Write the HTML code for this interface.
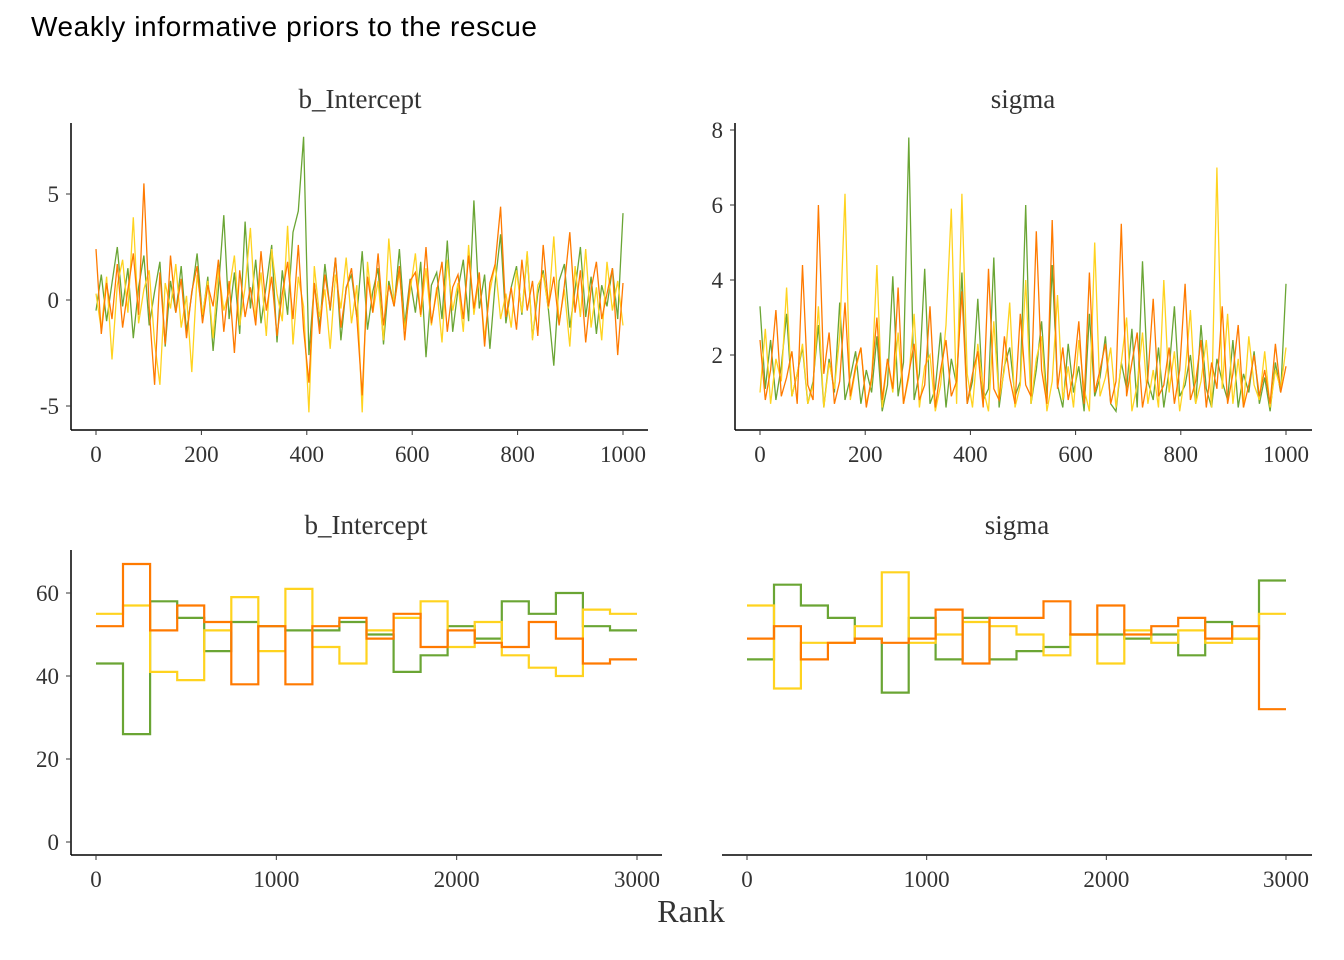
<!DOCTYPE html>
<html><head><meta charset="utf-8"><style>
body{margin:0;background:#fff;}
svg{display:block;}
text{font-family:"Liberation Serif",serif;fill:#333;}
</style></head><body>
<svg id="c" width="1344" height="960">
<text x="31" y="36" style="font-family:'Liberation Sans',sans-serif;font-size:28px;fill:#000" textLength="506">Weakly informative priors to the rescue</text>
<text x="360" y="108" text-anchor="middle" font-size="27" fill="#1a1a1a">b_Intercept</text>
<text x="1023" y="108" text-anchor="middle" font-size="27" fill="#1a1a1a">sigma</text>
<text x="366" y="534" text-anchor="middle" font-size="27" fill="#1a1a1a">b_Intercept</text>
<text x="1017" y="534" text-anchor="middle" font-size="27" fill="#1a1a1a">sigma</text>
<text x="691" y="922" text-anchor="middle" font-size="32" fill="#000">Rank</text>
</svg>
<script>
const colors=["#6aa534","#ffd31f","#ff7a00"];
const traceB_green=[-0.5,1.2,-1,0.8,2.5,-0.3,1.5,-1.8,0.6,2.1,-1.2,0.4,1.8,-2.2,0.9,-0.6,1.6,-1.5,0.3,2.2,-0.8,1.1,-2.4,0.5,4,-0.9,1.3,-1.6,3.7,-0.4,1.9,-1.1,0.7,2.6,-2,1.4,-0.7,3.2,4.2,7.7,-2.6,0.8,-1.3,1.7,-0.5,2,-1.9,0.6,1.2,-0.8,2.3,-1.4,0.4,1.5,-2.1,0.9,-0.3,2.4,-1.2,1,-0.6,1.8,-2.7,0.7,1.3,-0.9,2.8,-1.5,0.5,1.9,-1,4.7,-0.4,1.2,-2.3,0.8,3.1,-1.1,0.6,1.6,-0.7,2.2,-1.8,0.3,1.4,-0.5,-3.1,0.9,1.7,-1.3,0.5,2.5,-0.8,1.1,-1.6,0.7,-0.3,1.5,-0.9,4.1];
const traceB_yellow=[0.3,-1.4,1.1,-2.8,0.7,1.9,-0.6,3.9,-1.1,0.5,1.4,-2,-4,0.8,-0.4,1.7,-1.3,0.2,-3.4,1.2,-0.7,0.9,-1.8,1.5,-0.5,0.4,2.1,-1.2,0.6,3.4,-0.9,1.3,-1.7,2.4,0.3,-1,3.5,-2.1,1.1,-0.3,-5.3,1.6,-0.8,0.5,-2.3,1.2,-0.4,2,-1.1,0.7,-5.3,1.8,-0.6,0.9,-1.9,2.9,-0.2,1.3,-1.4,0.4,2.2,-0.8,1.5,-1.2,0.6,-2,1.9,-0.5,0.8,-1.5,2.6,-0.7,1.1,-1.8,0.4,1.7,-0.9,0.3,-1.3,1.4,-0.6,2.3,-1.9,0.7,1.2,-0.4,3,-1.1,0.5,-2.2,1.6,-0.8,2.4,-1.3,0.6,-1.9,1.8,-0.5,0.9,-1.2];
const traceB_orange=[2.4,-1.6,0.8,-0.9,1.7,-1.3,0.5,2.2,-0.7,5.5,-0.4,-4,1.3,-2.1,2.1,-0.6,1,-1.8,0.4,1.6,-1.1,0.7,-0.3,1.9,-1.5,0.9,-2.5,1.4,-0.8,0.6,-1.2,2.3,-0.5,1.1,-1.7,0.3,1.8,-0.9,2.6,-1.4,-3.9,0.8,-1.6,1.2,-0.4,2,-1.3,0.5,1.5,-0.8,-4.5,1.1,-0.6,2.2,-1.2,0.7,-0.3,1.6,-1.9,0.9,1.3,-0.7,2.5,-1.1,0.4,1.8,-1.5,0.6,1.2,-0.9,2.1,-0.4,1.3,-2.2,0.8,1.7,4.4,-0.8,0.6,-1.4,1.9,-0.5,0.9,-1.7,2.6,-0.3,1.1,-1.2,0.7,3.2,-0.6,1.4,-2,0.5,1.8,-0.9,0.3,1.5,-2.6,0.8];
const traceS_green=[3.3,1.1,2.4,0.8,1.7,3.1,0.9,1.5,2.2,0.7,1.3,2.8,0.6,1.9,1,3.4,0.8,1.4,2.1,0.7,1.6,1,2.5,0.5,1.2,4.1,0.9,1.8,7.8,0.8,1.5,4.3,0.7,1.1,2.6,0.6,1.9,1.2,4.2,0.7,1.3,3.5,0.8,1.1,4.6,0.6,1.7,2.2,0.9,1.3,6,0.7,1.6,2.9,0.8,4.4,1.2,0.6,2.3,1,1.7,0.5,3.1,0.9,1.4,2.5,0.7,0.5,1.8,1.1,2.7,0.6,4.5,1.3,0.8,2.2,0.6,1.6,3.3,0.9,1.2,2,0.7,2.8,1.1,0.6,1.9,1.3,0.8,2.4,0.6,1.5,1,2.1,0.7,1.4,0.5,1.8,1,3.9];
const traceS_yellow=[1,2.7,0.7,1.9,1.3,3.8,0.9,1.5,2.3,0.7,1.2,3.3,0.6,1.8,1.1,2.5,6.3,0.8,1.6,2.2,0.7,1.3,4.4,0.6,1.9,1,2.6,0.7,1.4,3.1,0.6,1.7,2,0.5,1.2,2.8,5.9,0.7,6.3,1.5,0.6,2.3,1.1,0.5,2.9,0.8,1.6,3.4,0.6,1.2,4,0.7,1.9,2.5,0.5,1.3,3.6,0.8,1.7,0.6,2.4,1.1,0.5,5,0.9,1.4,2.2,0.6,1.8,3,0.5,1.2,2.6,0.7,1.6,0.6,4,1,2.1,0.5,1.5,3.2,0.7,1.3,2.4,0.6,7,1.1,3.1,0.7,1.9,0.6,2.5,1.2,0.8,2.1,0.6,1.6,1.1,2.2];
const traceS_orange=[2.4,0.8,1.6,3.2,0.9,1.4,2.1,0.7,4.4,1.2,0.8,6,1.5,2.6,0.7,1.3,3.4,0.9,1.7,2.2,0.6,1.4,3,0.8,1.9,1.1,3.8,0.7,1.5,2.3,0.8,1.2,3.3,0.6,1.6,2.4,0.9,1.3,3.7,0.7,1.5,2.1,0.6,4.3,1.1,0.8,2.5,1.4,0.7,3.1,1.2,0.9,5.3,1.6,0.7,5.6,1.1,2.2,0.8,1.5,2.9,0.7,4.2,1,1.6,2.3,0.7,1.3,5.5,0.9,1.8,2.6,0.6,1.4,3.5,0.9,1.2,2.2,0.7,1.6,3.9,0.8,1.3,2.4,0.6,1.8,1.1,3.3,0.7,1.5,2.8,0.6,1.2,2,0.9,1.6,0.7,2.3,1,1.7];
const rankB_green=[43,26,58,54,46,53,52,51,51,53,50,41,45,52,49,58,55,60,52,51];
const rankB_yellow=[55,57,41,39,51,59,46,61,47,43,51,54,58,47,53,45,42,40,56,55];
const rankB_orange=[52,67,51,57,53,38,52,38,52,54,49,55,47,51,48,47,53,49,43,44];
const rankS_green=[44,62,57,54,49,36,54,44,54,44,46,47,50,50,49,50,45,53,49,63];
const rankS_yellow=[57,37,48,48,52,65,48,50,53,52,50,45,50,43,51,48,51,48,49,55];
const rankS_orange=[49,52,44,48,49,48,49,56,43,54,54,58,50,57,50,52,54,49,52,32];
const traceXTicks=[0,200,400,600,800,1000];
const traceBTicks=[-5,0,5];
const traceSTicks=[2,4,6,8];
const rankXTicks=[0,1000,2000,3000];
const rankYTicks=[0,20,40,60];

const svg=document.getElementById('c');
const NS="http://www.w3.org/2000/svg";
function mk(tag,attrs,name){const e=document.createElementNS(NS,tag);for(const k in attrs)e.setAttribute(k,attrs[k]);


svg.appendChild(e);return e;}
function lin(d0,d1,r0,r1){return v=>r0+(v-d0)*(r1-r0)/(d1-d0);}

function axes(p,prefix){
  if(p.xAxis) mk('line',{x1:p.xAxis[0],x2:p.xAxis[1],y1:p.axY,y2:p.axY,stroke:'#000','stroke-width':1.5},prefix+'-x-axis-line');
  if(p.yAxis) mk('line',{x1:p.axX,x2:p.axX,y1:p.yAxis[0],y2:p.yAxis[1],stroke:'#000','stroke-width':1.5},prefix+'-y-axis-line');
  p.xt.forEach(t=>{const x=p.sx(t);
    mk('line',{x1:x,x2:x,y1:p.axY,y2:p.axY+5,stroke:'#333','stroke-width':1},prefix+'-x-tick');
    const tx=mk('text',{x:x,y:p.axY+32,'text-anchor':'middle','font-size':23},prefix+'-x-tick-label');tx.textContent=t;});
  if(p.yAxis) p.yt.forEach(t=>{const y=p.sy(t);
    mk('line',{x1:p.axX-5,x2:p.axX,y1:y,y2:y,stroke:'#333','stroke-width':1},prefix+'-y-tick');
    const tx=mk('text',{x:p.axX-12,y:y+8,'text-anchor':'end','font-size':23},prefix+'-y-tick-label');tx.textContent=t;});
}
function trace(p,series,prefix){
  series.forEach((s,ci)=>{const n=s.length;
    const pts=s.map((v,i)=>p.sx(i*1000/(n-1)).toFixed(1)+','+p.sy(v).toFixed(1)).join(' ');
    mk('polyline',{points:pts,fill:'none',stroke:colors[ci],'stroke-width':1.3},prefix+'-chain-'+(ci+1));});
}
function rank(p,series,prefix){
  series.forEach((s,ci)=>{const n=s.length,w=3000/n;let d='';
    s.forEach((v,i)=>{const x0=p.sx(i*w),x1=p.sx((i+1)*w),y=p.sy(v);d+=(i?'L':'M')+x0.toFixed(1)+','+y.toFixed(1)+'L'+x1.toFixed(1)+','+y.toFixed(1);});
    mk('path',{d:d,fill:'none',stroke:colors[ci],'stroke-width':2.2},prefix+'-chain-'+(ci+1));});
}
const p1={sx:lin(0,1000,96,623),sy:lin(0,5,300,194),axY:430,axX:71,xAxis:[71,648],yAxis:[123,430],xt:traceXTicks,yt:traceBTicks};
const p2={sx:lin(0,1000,760,1286),sy:lin(2,8,355,130),axY:430,axX:735,xAxis:[735,1312],yAxis:[123,430],xt:traceXTicks,yt:traceSTicks};
const p3={sx:lin(0,3000,96,637),sy:lin(0,60,842,593),axY:855,axX:71,xAxis:[71,662],yAxis:[550,855],xt:rankXTicks,yt:rankYTicks};
const p4={sx:lin(0,3000,747,1286),sy:lin(0,60,842,593),axY:855,axX:722,xAxis:[722,1312],yAxis:null,xt:rankXTicks,yt:rankYTicks};
trace(p1,[traceB_green,traceB_yellow,traceB_orange],'trace-b-intercept');
trace(p2,[traceS_green,traceS_yellow,traceS_orange],'trace-sigma');
rank(p3,[rankB_green,rankB_yellow,rankB_orange],'rank-b-intercept');
rank(p4,[rankS_green,rankS_yellow,rankS_orange],'rank-sigma');
axes(p1,'trace-b-intercept');axes(p2,'trace-sigma');axes(p3,'rank-b-intercept');axes(p4,'rank-sigma');
</script>
</body></html>
